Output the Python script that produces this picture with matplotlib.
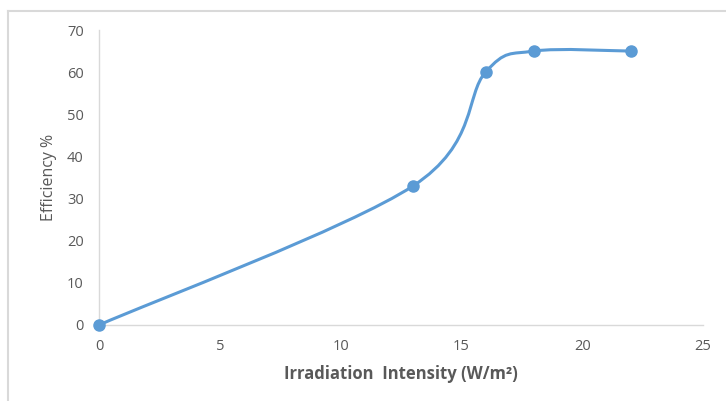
import matplotlib
matplotlib.use("Agg")
import matplotlib.pyplot as plt
import numpy as np
from matplotlib.path import Path
from matplotlib.patches import PathPatch
from matplotlib.lines import Line2D

# irradiation (W/m2) vs efficiency (%)
irradiation = [0, 13, 16, 18, 22]
efficiency = [0, 33, 60, 65, 65]

BLUE = "#5b9bd5"
GREY_TEXT = "#595959"
GREY_LINE = "#d9d9d9"

plt.rcParams["font.family"] = ["Open Sans", "DejaVu Sans"]


def smooth_path(xs, ys):
    # Catmull-Rom style bezier segments, like a spreadsheet "smoothed line"
    pts = np.column_stack([xs, ys]).astype(float)
    ext = np.vstack([pts[0], pts, pts[-1]])
    verts = [tuple(pts[0])]
    codes = [Path.MOVETO]
    for i in range(1, len(ext) - 2):
        p0, p1, p2, p3 = ext[i - 1], ext[i], ext[i + 1], ext[i + 2]
        c1 = p1 + (p2 - p0) / 6.0
        c2 = p2 - (p3 - p1) / 6.0
        verts += [tuple(c1), tuple(c2), tuple(p2)]
        codes += [Path.CURVE4] * 3
    return Path(verts, codes)


fig = plt.figure(figsize=(7.26, 4.01), dpi=100)
ax = fig.add_axes([99 / 726, 1 - 325 / 401, 604 / 726, 295 / 401])

ax.add_patch(PathPatch(smooth_path(irradiation, efficiency), facecolor="none",
                       edgecolor=BLUE, linewidth=2.2, capstyle="round", clip_on=False))
ax.plot(irradiation, efficiency, linestyle="none", marker="o", markersize=8,
        color=BLUE, clip_on=False, zorder=3)

ax.set_xlim(0, 25)
ax.set_ylim(0, 70)
ax.set_xticks(range(0, 26, 5))
ax.set_yticks(range(0, 71, 10))

for side in ("top", "right"):
    ax.spines[side].set_visible(False)
for side in ("left", "bottom"):
    ax.spines[side].set_color(GREY_LINE)
    ax.spines[side].set_linewidth(1.0)

ax.tick_params(length=0, labelsize=10.5, labelcolor=GREY_TEXT)
ax.tick_params(axis="y", pad=11)
ax.tick_params(axis="x", pad=10)

ax.set_xlabel("Irradiation  Intensity (W/m²)", fontsize=12, fontweight="bold",
              color=GREY_TEXT, labelpad=8)
ax.set_ylabel("Efficiency %", fontsize=11.5, color=GREY_TEXT, labelpad=7)

# chart area frame (top and left edges)
fig.add_artist(Line2D([8 / 726, 8 / 726], [0, 1 - 11 / 401], transform=fig.transFigure,
                      color=GREY_LINE, linewidth=1.5))
fig.add_artist(Line2D([8 / 726, 1], [1 - 11 / 401, 1 - 11 / 401], transform=fig.transFigure,
                      color=GREY_LINE, linewidth=1.5))

fig.savefig("out.png", dpi=100, facecolor="white")
